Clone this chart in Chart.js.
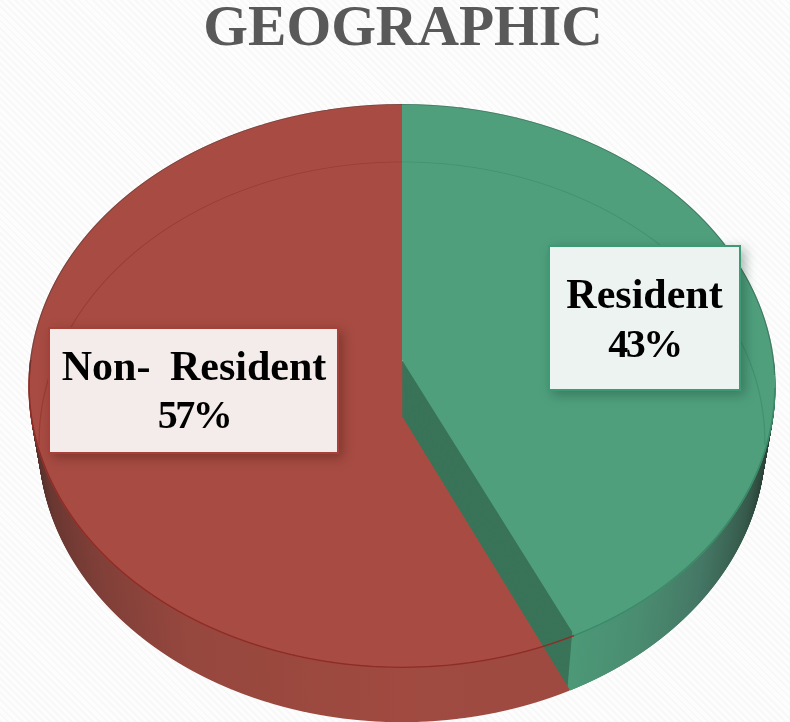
<!DOCTYPE html>
<html>
<head>
<meta charset="utf-8">
<script src="https://cdn.jsdelivr.net/npm/chart.js@4"></script>
<style>
html,body{margin:0;padding:0;width:790px;height:722px;overflow:hidden;
background-color:#fbfbfb;
background-image:repeating-linear-gradient(45deg,#f8f8f8 0,#f8f8f8 2px,#fdfdfd 2px,#fdfdfd 5px);}
canvas{display:block}
</style>
</head>
<body>
<canvas id="c" width="790" height="722"></canvas>
<script>
const titleText = "GEOGRAPHIC";
const categories = ["Resident", "Non- Resident"];
const shares = [43, 57];
const topColors = ["#4f9f7d", "#a84c43"];
const rimStopsGreen = [[0,"#4c9a78"],[0.7,"#4c9a78"],[0.8,"#4a8c70"],[0.88,"#457866"],[0.95,"#365a4b"],[1,"#24332c"]];
const rimStopsRed = [[0,"#4a2c28"],[0.04,"#6a3731"],[0.11,"#7f3f38"],[0.23,"#96473e"],[0.5,"#a04a40"],[1,"#9c4a40"]];

/* Viewing projection of the flat pie: perspective tilt and extrusion depth */
const VIEW = {ox:402, oy:360, a:372, b:279.6, k:-0.0922, depth:56, shrinkX:0.027, shrinkY:0.006};

/* Label boxes */
const BOXES = [
  {l:549,t:246,r:740,b:390,stroke:"#3e9a74",fill:"#ecf3f1",x:644.5,y1:308,y2:357,shadow:"rgba(20,60,45,0.38)"},
  {l:49,t:328,r:338,b:453,stroke:"#a8403a",fill:"#f4eceb",x:194,y1:380,y2:428,shadow:"rgba(60,20,15,0.38)"}
];

function strips(ctx, el, t, vMin, vMax, paint){
  const V = VIEW, R = el.outerRadius;
  const sx = 1 - V.shrinkX*t, sy = 1 - V.shrinkY*t;
  const oy = V.oy + V.depth*t;
  const yOf = v => oy + sy*V.b*v/(1+V.k*v);
  const y0 = Math.floor(yOf(vMin)), y1 = Math.ceil(yOf(vMax));
  for(let Y=y0; Y<y1; Y++){
    const rel = (Y+0.5-oy)/sy;
    const v = rel/(V.b - V.k*rel);
    const w = 1+V.k*v;
    ctx.save();
    ctx.beginPath(); ctx.rect(0,Y,790,1); ctx.clip();
    ctx.translate(V.ox, Y+0.5);
    ctx.scale(sx*V.a/(w*R), sy*V.b/(w*w*R));
    ctx.translate(-el.x, -(el.y + v*R));
    paint();
    ctx.restore();
  }
}
function withStyle(el, color, innerFrac, fn){
  const o = el.options, ir = el.innerRadius;
  el.options = Object.assign({}, o, {backgroundColor:color});
  el.innerRadius = el.outerRadius*innerFrac;
  fn();
  el.options = o; el.innerRadius = ir;
}
function hGrad(ctx, el, stops){
  const g = ctx.createLinearGradient(el.x-el.outerRadius,0,el.x+el.outerRadius,0);
  stops.forEach(s=>g.addColorStop(s[0],s[1]));
  return g;
}

const pie3d = {
  id:"pie3d",
  beforeDatasetsDraw(chart){
    const ctx = chart.ctx, arcs = chart.getDatasetMeta(0).data;
    const green = arcs[0], red = arcs[1], D = VIEW.depth;
    const face = (el,c,t,a,b)=>withStyle(el,c,0,()=>strips(ctx,el,t,a,b,()=>el.draw(ctx)));
    const ring = (el,c,t,a,b,fr)=>withStyle(el,c,fr,()=>strips(ctx,el,t,a,b,()=>el.draw(ctx)));

    /* red slice: rim then top */
    const rr = hGrad(ctx,red,rimStopsRed);
    for(let d=D;d>=1;d--) ring(red,rr,d/D,0,1.02,0.985);
    face(red,topColors[1],0,-1.01,1.01);
    ring(red,"#9b3d33",1,-1.01,0.1,0.9965);

    /* green slice: cut wall, rim, then the red edge line, then top */
    for(let d=D;d>=1;d--) face(green,"#3a7459",d/D,0,1.02);
    const gr = hGrad(ctx,green,rimStopsGreen);
    for(let d=D;d>=1;d--) ring(green,gr,d/D,0,1.02,0.985);
    ring(red,"#8e2c26",0,0,1.01,0.996);
    face(green,topColors[0],0,-1.01,1.01);
    ring(green,"#429270",1,-1.01,0.1,0.9965);
    ring(green,"#3a8a68",0,0.1,1.01,0.996);

    /* soft dark hairline on the far edge */
    ring(red,"rgba(70,60,60,0.45)",0,-1.01,0.05,0.9965);
    ring(green,"rgba(50,70,60,0.4)",0,-1.01,0.05,0.9965);
    return false;
  },
  afterDraw(chart){
    const ctx = chart.ctx;
    BOXES.forEach((B,i)=>{
      ctx.save();
      ctx.shadowColor = B.shadow; ctx.shadowBlur = 11; ctx.shadowOffsetX = 4; ctx.shadowOffsetY = 4;
      ctx.fillStyle = B.stroke;
      ctx.fillRect(B.l-1,B.t-1,B.r-B.l+2,B.b-B.t+2);
      ctx.restore();
      ctx.fillStyle = B.fill;
      ctx.fillRect(B.l+1,B.t+1,B.r-B.l-2,B.b-B.t-2);
      ctx.save();
      ctx.fillStyle = "#000"; ctx.textAlign = "center"; ctx.textBaseline = "alphabetic";
      ctx.font = 'bold 42px "Liberation Serif"';
      ctx.wordSpacing = "9px";
      ctx.fillText(categories[i],B.x,B.y1);
      ctx.wordSpacing = "0px";
      ctx.font = 'bold 40px "Liberation Serif"';
      ctx.letterSpacing = "-2.5px";
      ctx.fillText(shares[i]+"%",B.x,B.y2);
      ctx.restore();
    });
  }
};

new Chart(document.getElementById("c"),{
  type:"pie",
  data:{labels:categories,datasets:[{data:shares,backgroundColor:topColors,borderWidth:0}]},
  options:{
    responsive:false,animation:false,
    layout:{padding:{left:16,right:0,top:0,bottom:0}},
    plugins:{
      legend:{display:false},tooltip:{enabled:false},
      title:{display:true,text:titleText,color:"#595959",align:"center",
        font:{family:'"Liberation Serif"',size:57.5,weight:"bold",lineHeight:1.06},padding:{top:0,bottom:6}}
    }
  },
  plugins:[pie3d]
});
</script>
</body>
</html>
